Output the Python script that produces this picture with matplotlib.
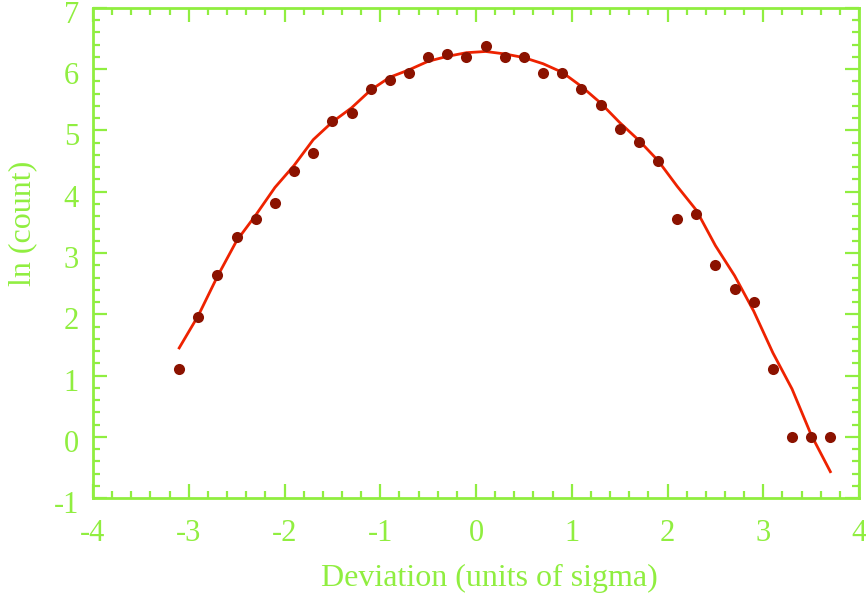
import matplotlib
matplotlib.use("Agg")
import matplotlib.pyplot as plt
import matplotlib.transforms as mtransforms
from matplotlib.ticker import MultipleLocator, AutoMinorLocator

# Data
x_points = [-3.1, -2.9, -2.7, -2.5, -2.3, -2.1, -1.9, -1.7, -1.5, -1.3, -1.1, -0.9,
            -0.7, -0.5, -0.3, -0.1, 0.1, 0.3, 0.5, 0.7, 0.9, 1.1, 1.3, 1.5, 1.7,
            1.9, 2.1, 2.3, 2.5, 2.7, 2.9, 3.1, 3.3, 3.5, 3.7]
y_points = [1.10, 1.95, 2.64, 3.26, 3.56, 3.81, 4.34, 4.64, 5.16, 5.29, 5.68, 5.83,
            5.94, 6.20, 6.25, 6.20, 6.38, 6.20, 6.20, 5.94, 5.94, 5.68, 5.42, 5.03, 4.82,
            4.51, 3.56, 3.64, 2.81, 2.42, 2.20, 1.10, 0.0, 0.0, 0.0]
y_fit = [1.45, 1.98, 2.62, 3.20, 3.62, 4.07, 4.43, 4.85, 5.14, 5.37, 5.66, 5.87,
         5.99, 6.13, 6.21, 6.27, 6.29, 6.25, 6.19, 6.09, 5.95, 5.72, 5.45, 5.13, 4.84,
         4.51, 4.09, 3.70, 3.12, 2.63, 2.05, 1.37, 0.78, 0.03, -0.57]

GREEN = '#90EE40'
plt.rcParams['font.family'] = ['Liberation Serif', 'DejaVu Serif']
plt.rcParams['axes.unicode_minus'] = False

fig = plt.figure(figsize=(8.66, 5.96), dpi=100)
ax = fig.add_axes([0.1074, 0.1644, 0.8846, 0.8222])

ax.plot(x_points, y_fit, color='#EE2200', lw=2.0, zorder=2)
ax.plot(x_points, y_points, 'o', color='#8B1200', markersize=8, markeredgewidth=0, zorder=3)

ax.set_xlim(-4, 4)
ax.set_ylim(-1, 7)
ax.xaxis.set_major_locator(MultipleLocator(1))
ax.yaxis.set_major_locator(MultipleLocator(1))
ax.xaxis.set_minor_locator(AutoMinorLocator(5))
ax.yaxis.set_minor_locator(AutoMinorLocator(5))

for s in ax.spines.values():
    s.set_color(GREEN)
    s.set_linewidth(2)

ax.tick_params(which='both', direction='in', top=True, right=True, color=GREEN,
               labelcolor=GREEN, labelsize=22)
ax.tick_params(which='major', length=10, width=1.6)
ax.tick_params(which='minor', length=5, width=1.6)
ax.tick_params(axis='x', which='major', pad=15)
ax.tick_params(axis='y', which='major', pad=10)

# y tick labels sit slightly below their ticks in the reference
offset = mtransforms.ScaledTranslation(0, -4 / 100, fig.dpi_scale_trans)
for lbl in ax.get_yticklabels():
    lbl.set_transform(lbl.get_transform() + offset)

ax.set_xlabel('Deviation (units of sigma)', color=GREEN, fontsize=23)
ax.set_ylabel('ln (count)', color=GREEN, fontsize=23)
ax.xaxis.set_label_coords(0.5176, -0.135)
ax.yaxis.set_label_coords(-0.073, 0.561)

fig.savefig('out.png', dpi=100)
